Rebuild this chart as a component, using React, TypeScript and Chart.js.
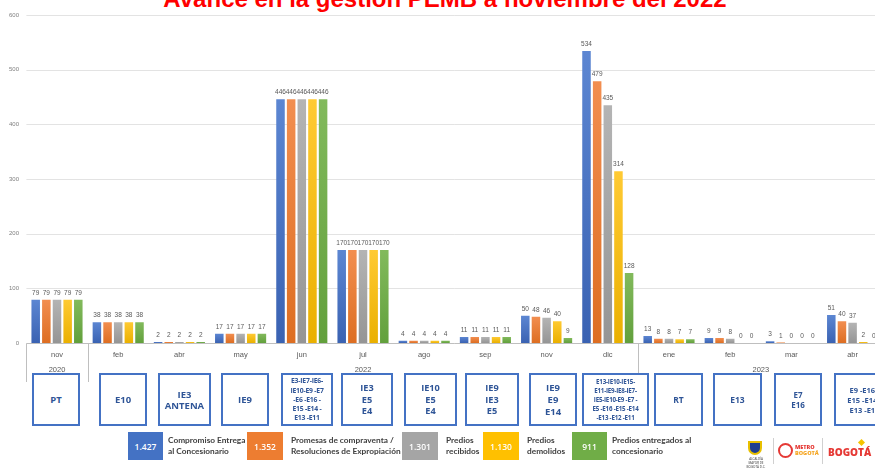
import React, { useEffect, useRef } from "react";
import { Chart, registerables } from "chart.js";

Chart.register(...registerables);

const months = ["nov", "feb", "abr", "may", "jun", "jul", "ago", "sep", "nov", "dic", "ene", "feb", "mar", "abr"];
const years = [
  { label: "2020", from: 0, to: 0 },
  { label: "2022", from: 1, to: 9 },
  { label: "2023", from: 10, to: 13 },
];
const compromiso = [79, 38, 2, 17, 446, 170, 4, 11, 50, 534, 13, 9, 3, 51];
const promesas = [79, 38, 2, 17, 446, 170, 4, 11, 48, 479, 8, 9, 1, 40];
const recibidos = [79, 38, 2, 17, 446, 170, 4, 11, 46, 435, 8, 8, 0, 37];
const demolidos = [79, 38, 2, 17, 446, 170, 4, 11, 40, 314, 7, 0, 0, 2];
const entregados = [79, 38, 2, 17, 446, 170, 4, 11, 9, 128, 7, 0, 0, 0];
const yTicks = [0, 100, 200, 300, 400, 500, 600];

const seriesNames = [
  "Compromiso Entrega al Concesionario",
  "Promesas de compraventa / Resoluciones de Expropiación",
  "Predios recibidos",
  "Predios demolidos",
  "Predios entregados al concesionario",
];
const seriesColors = ["#4472C4", "#ED7D31", "#A5A5A5", "#FFC000", "#70AD47"];
const seriesTop = ["#5C86D2", "#F28E50", "#B4B4B4", "#FFCA33", "#82BA5C"];
const seriesBottom = ["#3A62B2", "#DD6E22", "#959595", "#EAB000", "#62A03C"];

const boxLabels = [
  "PT",
  "E10",
  "IE3\nANTENA",
  "IE9",
  "E3-IE7-IE6-\nIE10-E9 -E7\n-E6 -E16 -\nE15 -E14 -\nE13 -E11",
  "IE3\nE5\nE4",
  "IE10\nE5\nE4",
  "IE9\nIE3\nE5",
  "IE9\nE9\nE14",
  "E13-IE10-IE15-\nE11-IE9-IE8-IE7-\nIE5-IE10-E9 -E7 -\nE5 -E16 -E15 -E14\n-E13 -E12 -E11",
  "RT",
  "E13",
  "E7\nE16",
  "E9 -E16 -\nE15 -E14 -\nE13 -E11",
];

const legendItems = [
  { total: "1.427", text: "Compromiso Entrega\nal Concesionario" },
  { total: "1.352", text: "Promesas de compraventa /\nResoluciones de Expropiación" },
  { total: "1.301", text: "Predios\nrecibidos" },
  { total: "1.130", text: "Predios\ndemolidos" },
  { total: "911", text: "Predios entregados al\nconcesionario" },
];

// layout (positions only)
const boxGeom = [
  [32, 80, 9.5, 12], [99, 147, 9.5, 12], [158, 211, 9.5, 11], [221, 269, 9.5, 12],
  [281, 333, 6.8, 9.2], [341, 393, 9.2, 11.5], [404, 457, 9.2, 11.5], [465, 519, 9.2, 11.5],
  [529, 577, 9.5, 12], [582, 649, 6.2, 9.1], [654, 703, 8.5, 11], [713, 762, 8.5, 11],
  [774, 822, 8, 10], [834, 895, 7.5, 10],
];
const legendGeom = [
  [128, 163, 168], [247, 283, 291], [402, 438, 446], [483, 519, 527], [572, 607, 612],
];

const overlayPlugin = {
  id: "overlay",
  beforeDatasetsDraw(chart: any) {
    const ctx = chart.ctx;
    const area = chart.chartArea;
    const y = chart.scales.y;
    ctx.save();
    ctx.strokeStyle = "#E3E3E3";
    ctx.lineWidth = 1;
    yTicks.forEach((t) => {
      const py = Math.round(y.getPixelForValue(t)) + 0.5;
      if (t === 0) return;
      ctx.beginPath();
      ctx.moveTo(area.left, py);
      ctx.lineTo(area.right, py);
      ctx.stroke();
    });
    ctx.fillStyle = "#7F7F7F";
    ctx.font = "6px 'Liberation Sans', Arial, sans-serif";
    ctx.textAlign = "right";
    ctx.textBaseline = "middle";
    yTicks.forEach((t) => {
      ctx.fillText(String(t), 19, y.getPixelForValue(t));
    });
    ctx.restore();
  },
  afterDatasetsDraw(chart: any) {
    const ctx = chart.ctx;
    const area = chart.chartArea;
    const x = chart.scales.x;
    const y = chart.scales.y;
    ctx.save();
    const y0 = Math.round(y.getPixelForValue(0)) + 0.5;
    ctx.strokeStyle = "#BFBFBF";
    ctx.lineWidth = 1;
    ctx.beginPath();
    ctx.moveTo(area.left, y0);
    ctx.lineTo(area.right, y0);
    ctx.stroke();
    ctx.fillStyle = "#595959";
    ctx.font = "6.5px 'Liberation Sans', Arial, sans-serif";
    ctx.textAlign = "center";
    ctx.textBaseline = "bottom";
    chart.data.datasets.forEach((ds: any, di: number) => {
      const meta = chart.getDatasetMeta(di);
      meta.data.forEach((bar: any, i: number) => {
        ctx.fillText(String(ds.data[i]), bar.x, bar.y - 3.5);
      });
    });
    ctx.font = "7.5px 'Liberation Sans', Arial, sans-serif";
    ctx.textBaseline = "middle";
    months.forEach((m, i) => {
      ctx.fillText(m, x.getPixelForValue(i), 354.5);
    });
    const step = (area.right - area.left) / months.length;
    years.forEach((g) => {
      const cx = (x.getPixelForValue(g.from) + x.getPixelForValue(g.to)) / 2;
      ctx.fillText(g.label, cx, 370);
    });
    ctx.strokeStyle = "#BFBFBF";
    [0, 1, 10].forEach((k) => {
      const px = Math.round(area.left + k * step) + 0.5;
      ctx.beginPath();
      ctx.moveTo(px, y0);
      ctx.lineTo(px, 382);
      ctx.stroke();
    });
    ctx.restore();
  },
};

export default function App() {
  const canvasRef = useRef<HTMLCanvasElement>(null);

  useEffect(() => {
    if (!canvasRef.current) return;
    const chart = new Chart(canvasRef.current, {
      type: "bar",
      data: {
        labels: months,
        datasets: [compromiso, promesas, recibidos, demolidos, entregados].map((d, i) => ({
          label: seriesNames[i],
          data: d,
          backgroundColor: (c: any) => {
            const ch = c.chart;
            const ys = ch.scales && ch.scales.y;
            if (!ch.chartArea || !ys || c.type !== "data") return seriesColors[i];
            const top = ys.getPixelForValue(c.raw);
            const bot = ys.getPixelForValue(0);
            if (!isFinite(top) || bot - top < 1) return seriesColors[i];
            const g = ch.ctx.createLinearGradient(0, top, 0, bot);
            g.addColorStop(0, seriesTop[i]);
            g.addColorStop(1, seriesBottom[i]);
            return g;
          },
          borderWidth: 0,
          categoryPercentage: 0.87,
          barPercentage: 0.8,
        })),
      },
      options: {
        responsive: false,
        animation: false,
        layout: { padding: { left: 26.4, right: 16.8, top: 15, bottom: 42 } },
        plugins: { legend: { display: false }, tooltip: { enabled: false }, title: { display: false } },
        scales: {
          x: { display: false },
          y: { display: false, min: 0, max: 600 },
        },
      },
      plugins: [overlayPlugin],
    });
    return () => chart.destroy();
  }, []);

  return (
    <div
      style={{
        position: "fixed",
        left: 0,
        top: 0,
        width: 875,
        height: 475,
        overflow: "hidden",
        background: "#FFFFFF",
      }}
    >
      <div
        style={{
          position: "absolute",
          left: 0,
          width: 890,
          top: -13,
          textAlign: "center",
          fontFamily: "'Liberation Sans', Arial, sans-serif",
          fontWeight: 700,
          fontSize: 24,
          lineHeight: "24px",
          color: "#FF0000",
          whiteSpace: "nowrap",
        }}
      >
        Avance en la gestión PEMB a noviembre del 2022
      </div>
      <canvas ref={canvasRef} width={900} height={385} style={{ position: "absolute", left: 0, top: 0 }} />
      {boxLabels.map((t, i) => {
        const [l, r, fs, lh] = boxGeom[i];
        return (
          <div
            key={i}
            style={{
              position: "absolute",
              left: l,
              top: 373,
              width: r - l,
              height: 53,
              boxSizing: "border-box",
              border: "2px solid #4472C4",
              background: "#FFFFFF",
              display: "flex",
              alignItems: "center",
              justifyContent: "center",
              textAlign: "center",
              whiteSpace: "pre",
              fontFamily: "'Open Sans', sans-serif",
              fontWeight: 700,
              fontSize: fs,
              lineHeight: lh + "px",
              color: "#2F5597",
              letterSpacing: fs < 7 ? -0.2 : 0,
            }}
          >
            {t}
          </div>
        );
      })}
      {legendItems.map((it, i) => {
        const [l, r, tx] = legendGeom[i];
        return (
          <React.Fragment key={i}>
            <div
              style={{
                position: "absolute",
                left: l,
                top: 432,
                width: r - l,
                height: 28,
                background: seriesColors[i],
                color: "#FFFFFF",
                display: "flex",
                alignItems: "center",
                justifyContent: "center",
                fontFamily: "'Open Sans', sans-serif",
                fontWeight: 600,
                fontSize: 8.5,
              }}
            >
              {it.total}
            </div>
            <div
              style={{
                position: "absolute",
                left: tx,
                top: 435,
                whiteSpace: "pre",
                fontFamily: "Lato, 'Open Sans', sans-serif",
                fontWeight: 700,
                fontSize: 8.3,
                lineHeight: "11px",
                color: "#404040",
              }}
            >
              {it.text}
            </div>
          </React.Fragment>
        );
      })}
      {/* logos (approximations) */}
      <div style={{ position: "absolute", left: 748, top: 441, width: 14, height: 14, background: "#1F3F8F", borderRadius: "0 0 7px 7px", border: "2px solid #E8C000", boxSizing: "border-box" }} />
      <div style={{ position: "absolute", left: 744, top: 457, width: 24, fontSize: 3, fontFamily: "'Open Sans', sans-serif", textAlign: "center", color: "#333" }}>ALCALDÍA MAYOR DE BOGOTÁ D.C.</div>
      <div style={{ position: "absolute", left: 773, top: 438, width: 1, height: 26, background: "#D0D0D0" }} />
      <div style={{ position: "absolute", left: 778, top: 443, width: 15, height: 15, borderRadius: "50%", border: "2px solid #E53935", boxSizing: "border-box" }} />
      <div style={{ position: "absolute", left: 795, top: 444, fontSize: 5.5, lineHeight: "6px", fontWeight: 800, fontFamily: "'Open Sans', sans-serif", color: "#E53935" }}>
        METRO
        <br />
        <span style={{ color: "#F5A623" }}>BOGOTÁ</span>
      </div>
      <div style={{ position: "absolute", left: 822, top: 438, width: 1, height: 26, background: "#D0D0D0" }} />
      <div style={{ position: "absolute", left: 828, top: 446, fontSize: 10, fontWeight: 800, fontFamily: "'Open Sans', sans-serif", color: "#E53935", lineHeight: "12px" }}>
        BOGOTÁ
      </div>
      <div style={{ position: "absolute", left: 859, top: 440, width: 5, height: 5, background: "#F5C400", transform: "rotate(45deg)" }} />
    </div>
  );
}
